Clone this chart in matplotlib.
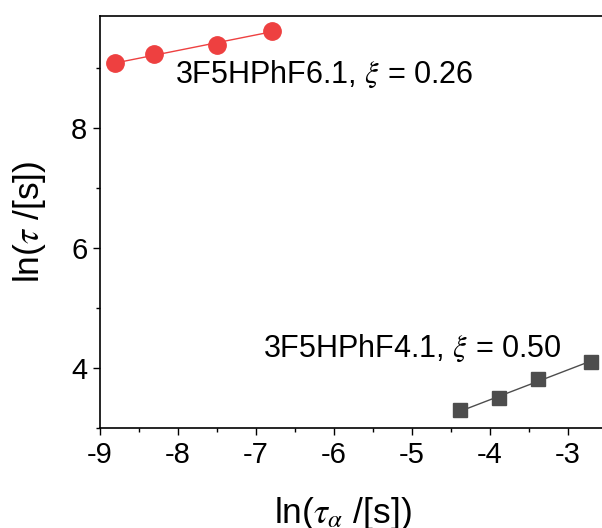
import numpy as np
import matplotlib
matplotlib.use("Agg")
import matplotlib.pyplot as plt
from matplotlib.ticker import MultipleLocator

plt.rcParams['font.family'] = ['Liberation Sans', 'DejaVu Sans']
plt.rcParams['mathtext.fontset'] = 'stix'
plt.rcParams['axes.unicode_minus'] = False

# ln(tau_alpha) vs ln(tau) for the two compounds
x_f6 = [-8.81, -8.31, -7.50, -6.79]
y_f6 = [9.09, 9.24, 9.39, 9.63]
xi_f6 = 0.26

x_f4 = [-4.38, -3.88, -3.38, -2.70]
y_f4 = [3.29, 3.49, 3.81, 4.10]
xi_f4 = 0.50

x_ticks = [-9, -8, -7, -6, -5, -4, -3]
y_ticks = [4, 6, 8]

W, H = 602, 528
fig = plt.figure(figsize=(W / 100, H / 100), dpi=100)
ax = fig.add_axes([100 / W, 1 - 427.6 / H, 502 / W, (427.6 - 15.7) / H])

red = '#EE4040'
gray = '#4D4D4D'


def fit_line(xs, ys, slope):
    xs = np.asarray(xs)
    ys = np.asarray(ys)
    b = ys.mean() - slope * xs.mean()
    xx = np.array([xs.min(), xs.max()])
    return xx, slope * xx + b


lx, ly = fit_line(x_f6, y_f6, xi_f6)
ax.plot(lx, ly, color=red, lw=1.0, zorder=2)
ax.plot(x_f6, y_f6, 'o', color=red, ms=12.5, mec=red, zorder=3)

lx, ly = fit_line(x_f4, y_f4, xi_f4)
ax.plot(lx, ly, color=gray, lw=1.0, zorder=2)
ax.plot(x_f4, y_f4, 's', color=gray, ms=10.3, mec=gray, zorder=3)

ax.set_xlim(-9, -9 + 502 / 78)
ax.set_ylim(3.0, 9.88)
ax.set_xticks(x_ticks)
ax.set_yticks(y_ticks)
ax.xaxis.set_minor_locator(MultipleLocator(0.5))
ax.yaxis.set_minor_locator(MultipleLocator(1))
ax.tick_params(which='major', direction='out', length=5, width=1.0,
               labelsize=21, colors='black')
ax.tick_params(which='minor', direction='out', length=3, width=1.0)
ax.tick_params(axis='x', which='major', pad=5)
ax.tick_params(axis='y', which='major', pad=4)
for s in ax.spines.values():
    s.set_linewidth(1.2)
ax.spines['right'].set_visible(False)

ax.text(-8.04, 8.75, r'3F5HPhF6.1, $\xi$ = 0.26', fontsize=22,
        ha='left', va='baseline')
ax.text(-6.91, 4.18, r'3F5HPhF4.1, $\xi$ = 0.50', fontsize=22,
        ha='left', va='baseline')

fig.text(343 / W, 1 - 523 / H, r'ln($\tau_{\alpha}$ /[s])', fontsize=25.5,
         ha='center', va='baseline')
fig.text(29 / W, 1 - 222 / H, r'ln($\tau$ /[s])', fontsize=25.5,
         ha='center', va='center', rotation=90)

fig.savefig('out.png', dpi=100)
